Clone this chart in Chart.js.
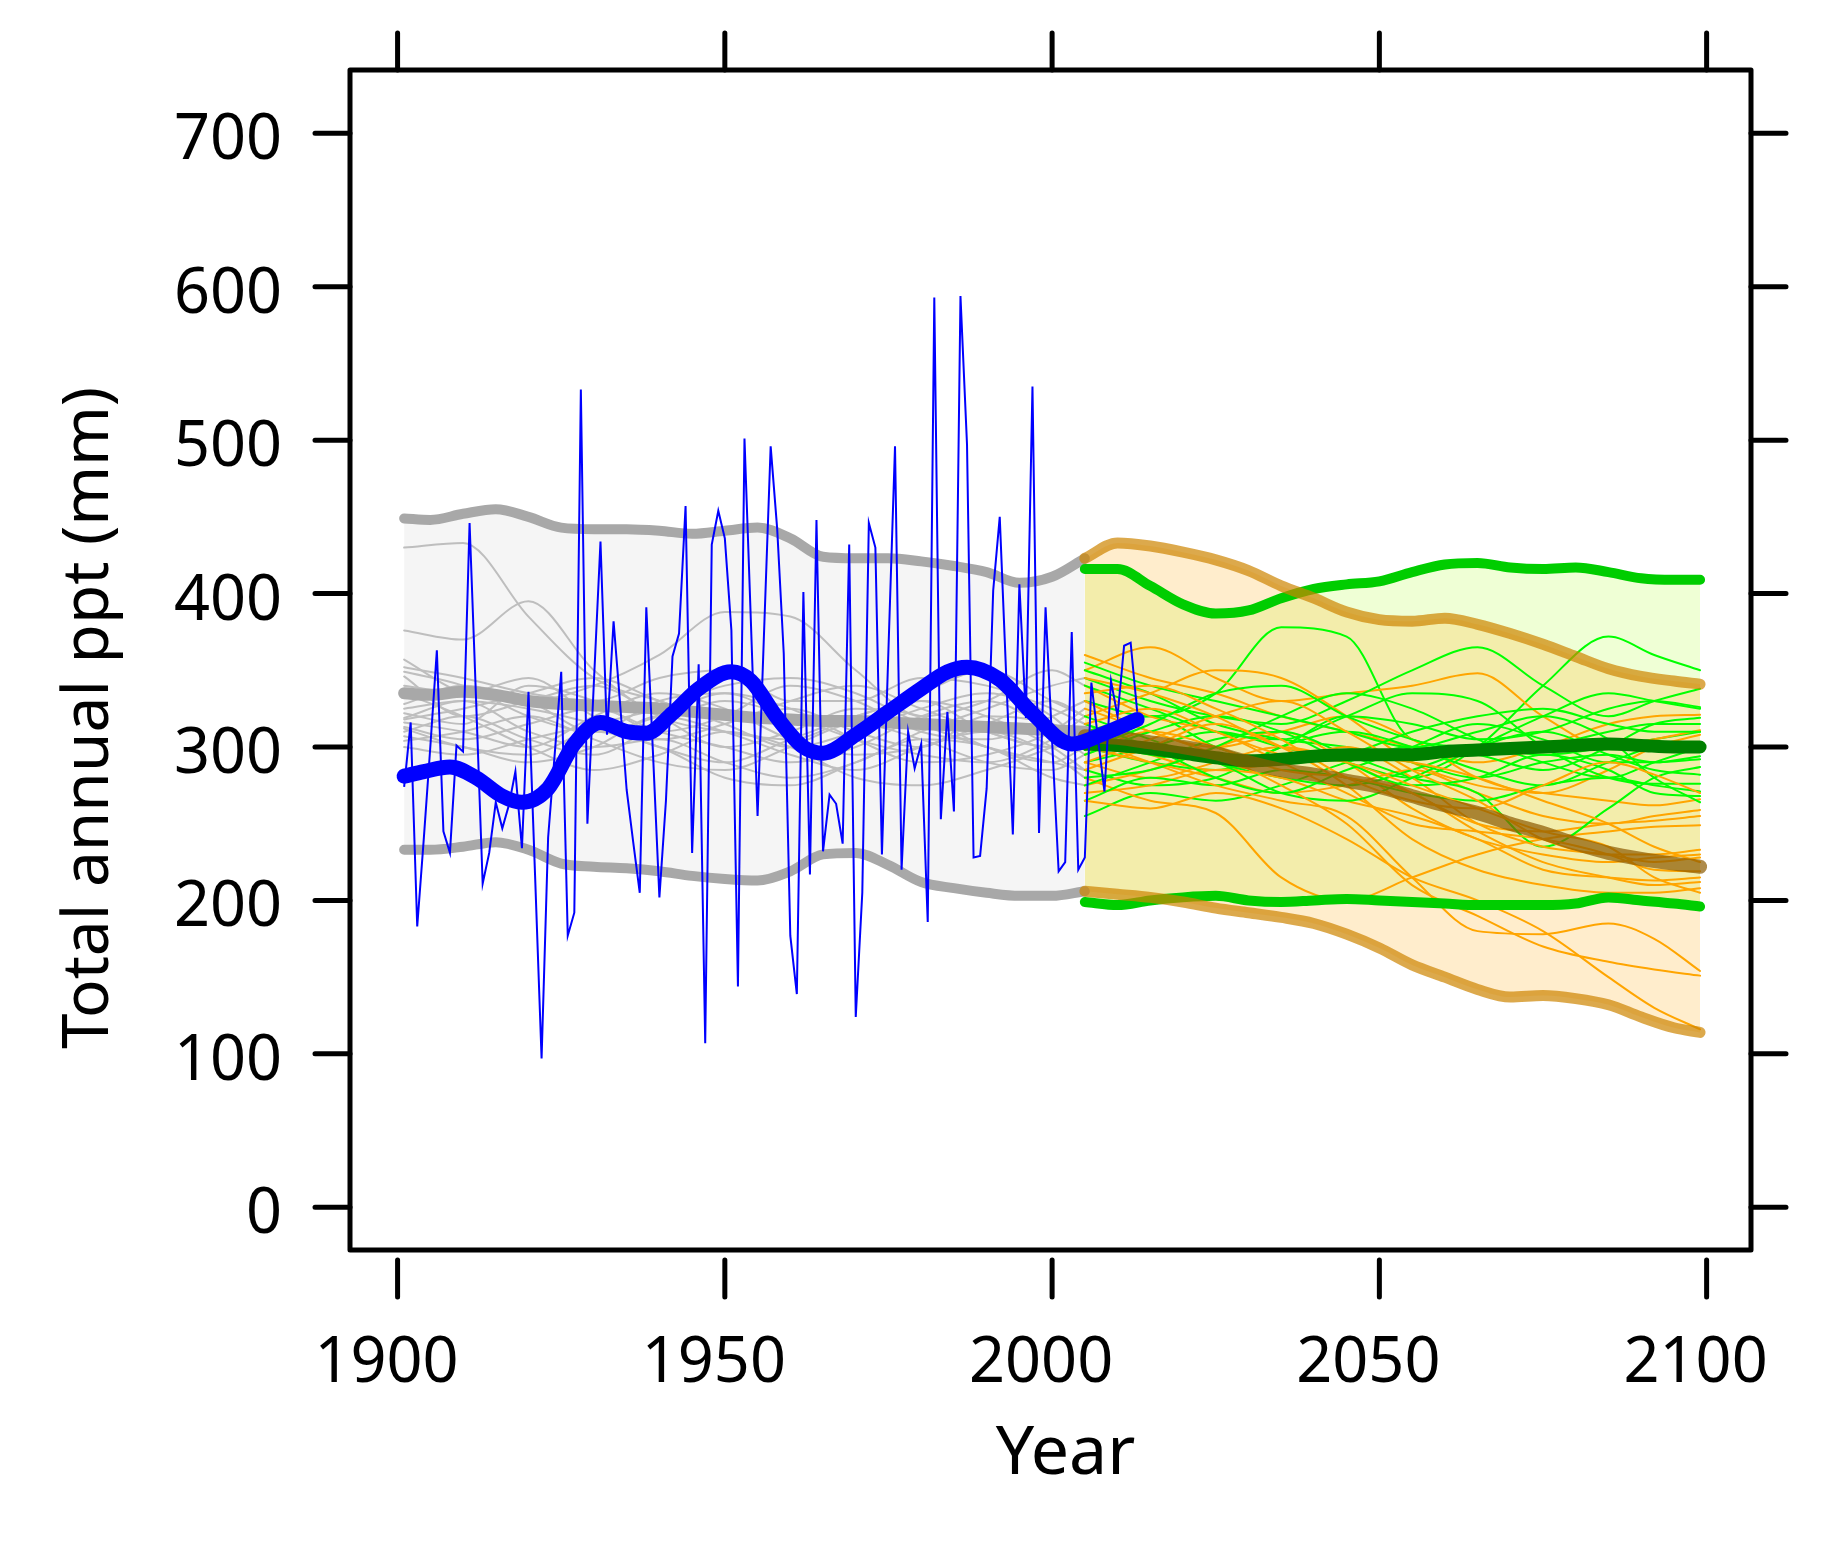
<!DOCTYPE html>
<html>
<head>
<meta charset="utf-8">
<title>Total annual ppt</title>
<script src="https://cdn.jsdelivr.net/npm/chart.js@4.4.1/dist/chart.umd.min.js"></script>
<style>
  html, body { margin: 0; padding: 0; background: #fff; }
  canvas { display: block; }
</style>
</head>
<body>
<canvas id="myChart" width="1829" height="1542"></canvas>
<script>
'use strict';

// axis ticks
let xTicks = [1900, 1950, 2000, 2050, 2100];
let yTicks = [0, 100, 200, 300, 400, 500, 600, 700];

// observed annual totals (mm), one value a year from 1901 to 2013
let obsFirstYear = 1901;
let obsValues = [
  274, 316, 183, 240, 300, 363, 245, 231, 301, 297,
  446, 330, 211, 231, 264, 247, 262, 284, 234, 336,
  217, 97, 241, 295, 349, 177, 192, 533, 250, 343,
  434, 308, 382, 328, 272, 238, 205, 391, 298, 202,
  265, 359, 374, 457, 231, 354, 107, 432, 454, 436,
  376, 144, 501, 379, 255, 376, 496, 442, 361, 177,
  139, 401, 217, 448, 232, 269, 263, 237, 432, 124,
  205, 446, 430, 230, 364, 496, 220, 310, 286, 302,
  186, 593, 253, 323, 258, 594, 497, 228, 229, 273,
  402, 450, 345, 243, 406, 319, 535, 244, 391, 304,
  219, 225, 375, 220, 228, 342, 306, 271, 343, 320,
  366, 368, 323
];

// smoothed observed
let obsSmoothYears = [1901, 1904, 1908, 1912, 1916, 1919, 1923, 1927, 1931, 1935, 1938, 1942, 1946, 1951,
  1954, 1958, 1962, 1965, 1970, 1975, 1980, 1984, 1987, 1992, 1997, 2003, 2008, 2013];
let obsSmooth = [281, 284, 287, 280, 268, 264, 273, 302, 316, 310, 309, 322, 338, 349,
  343, 319, 300, 296, 308, 323, 338, 349, 352, 344, 322, 302, 309, 318];

// historical model envelope
let histYears = [1901, 1905, 1910, 1915, 1920, 1925, 1930, 1935, 1940, 1945, 1950,
  1955, 1960, 1965, 1970, 1975, 1980, 1985, 1990, 1995, 2000, 2005];
let histUpper = [449, 448, 452, 455, 450, 443, 442, 442, 441, 439, 441,
  443, 436, 424, 423, 423, 421, 418, 414, 407, 411, 423];
let histMean = [335, 334, 336, 334, 330, 328, 327, 326, 325, 323, 321,
  319, 318, 317, 317, 316, 315, 314, 313, 312, 311, 310];
let histLower = [233, 233, 235, 238, 233, 224, 222, 221, 219, 216, 214,
  213, 219, 230, 231, 223, 212, 208, 205, 203, 203, 206];

// historical model runs
let runYears = [1901, 1910, 1920, 1930, 1940, 1950, 1960, 1970, 1980, 1990, 2000, 2005];
let histRuns = [
  [430, 433, 385, 345, 330, 318, 325, 310, 300, 320, 315, 305],
  [376, 370, 395, 350, 320, 310, 305, 320, 330, 310, 300, 310],
  [357, 335, 330, 340, 360, 388, 385, 350, 320, 330, 350, 340],
  [352, 345, 335, 330, 345, 350, 330, 330, 345, 340, 325, 315],
  [349, 340, 320, 310, 330, 335, 320, 315, 335, 350, 330, 320],
  [346, 320, 330, 340, 320, 300, 310, 325, 320, 300, 290, 300],
  [322, 315, 340, 330, 310, 320, 340, 330, 310, 305, 320, 330],
  [319, 330, 325, 315, 300, 290, 305, 320, 330, 320, 300, 285],
  [316, 310, 300, 320, 335, 325, 305, 295, 300, 315, 330, 320],
  [313, 305, 315, 325, 310, 300, 290, 300, 320, 330, 310, 295],
  [310, 320, 305, 295, 315, 330, 320, 305, 295, 290, 305, 320],
  [307, 300, 290, 300, 320, 310, 295, 285, 300, 310, 295, 280],
  [304, 310, 320, 305, 290, 285, 300, 315, 305, 290, 285, 295],
  [340, 335, 345, 320, 305, 315, 330, 340, 325, 310, 300, 305],
  [325, 330, 310, 300, 305, 290, 280, 290, 310, 325, 340, 345],
  [300, 295, 305, 315, 325, 340, 345, 335, 315, 300, 290, 285],
  [335, 320, 300, 285, 295, 310, 300, 280, 275, 285, 300, 310],
  [318, 325, 335, 345, 330, 315, 300, 310, 325, 335, 320, 300],
  [312, 300, 295, 310, 300, 280, 275, 290, 305, 300, 280, 275],
  [328, 340, 330, 310, 320, 335, 325, 305, 290, 295, 310, 325]
];

// projection envelopes
let futYears = [2005, 2010, 2015, 2020, 2025, 2030, 2035, 2040, 2045, 2050,
  2055, 2060, 2065, 2070, 2075, 2080, 2085, 2090, 2095, 2099];
let greenUpper = [416, 416, 405, 393, 387, 389, 397, 403, 406, 408,
  414, 419, 420, 417, 416, 417, 414, 410, 409, 409];
let greenMean = [302, 301, 299, 296, 293, 291, 292, 294, 295, 295,
  295, 297, 298, 299, 300, 301, 302, 301, 300, 300];
let greenLower = [199, 197, 200, 202, 203, 200, 199, 200, 201, 200,
  199, 198, 197, 197, 197, 198, 202, 200, 198, 196];
let orangeUpper = [423, 433, 431, 427, 422, 415, 405, 397, 388, 383,
  382, 384, 380, 374, 367, 359, 351, 346, 343, 341];
let orangeMean = [307, 306, 303, 300, 296, 290, 285, 282, 278, 274,
  268, 262, 257, 250, 244, 237, 231, 227, 224, 222];
let orangeLower = [206, 204, 202, 199, 195, 192, 189, 185, 178, 169,
  158, 150, 142, 137, 138, 136, 132, 124, 117, 114];

// projection runs
let futRunYears = [2005, 2015, 2025, 2035, 2045, 2055, 2065, 2075, 2085, 2092, 2099];
let greenRuns = [
  [330, 320, 335, 378, 372, 305, 300, 295, 300, 305, 310],
  [290, 300, 310, 300, 290, 280, 300, 340, 372, 360, 350],
  [345, 330, 320, 315, 330, 350, 365, 340, 320, 330, 338],
  [300, 290, 285, 300, 320, 315, 305, 310, 325, 330, 326],
  [255, 270, 265, 275, 290, 300, 295, 285, 300, 315, 319],
  [310, 320, 300, 290, 295, 310, 320, 325, 315, 310, 310],
  [285, 275, 280, 300, 310, 300, 285, 275, 290, 300, 302],
  [350, 335, 315, 305, 300, 290, 280, 290, 295, 290, 294],
  [275, 290, 305, 310, 295, 280, 270, 235, 260, 280, 287],
  [320, 305, 290, 280, 275, 285, 300, 310, 295, 285, 282],
  [340, 325, 310, 305, 320, 335, 330, 300, 280, 276, 276],
  [265, 280, 275, 285, 280, 270, 265, 275, 280, 275, 271],
  [295, 310, 320, 310, 290, 275, 280, 295, 285, 270, 268],
  [355, 340, 330, 320, 310, 300, 310, 320, 305, 280, 264],
  [305, 295, 290, 270, 265, 280, 300, 320, 335, 330, 325],
  [280, 285, 300, 320, 335, 325, 305, 290, 280, 290, 300],
  [315, 300, 280, 270, 285, 300, 315, 305, 290, 290, 292],
  [298, 315, 335, 340, 320, 305, 295, 300, 310, 315, 315]
];
let orangeRuns = [
  [360, 345, 335, 320, 310, 300, 290, 300, 315, 320, 321],
  [350, 365, 345, 330, 335, 340, 348, 320, 300, 305, 311],
  [330, 310, 300, 310, 320, 305, 280, 270, 285, 300, 308],
  [320, 335, 350, 345, 320, 290, 275, 270, 265, 262, 266],
  [300, 290, 280, 270, 275, 285, 270, 255, 250, 255, 259],
  [290, 280, 290, 300, 290, 270, 250, 245, 250, 252, 255],
  [280, 265, 257, 215, 200, 215, 230, 240, 245, 248, 249],
  [275, 285, 300, 310, 290, 260, 240, 230, 225, 228, 230],
  [310, 295, 285, 290, 300, 280, 250, 235, 230, 225, 228],
  [340, 320, 310, 290, 270, 250, 245, 240, 230, 220, 219],
  [270, 275, 285, 280, 265, 255, 240, 220, 215, 213, 215],
  [295, 310, 300, 285, 280, 270, 245, 225, 215, 210, 212],
  [285, 300, 315, 300, 275, 240, 220, 210, 205, 205, 208],
  [305, 290, 275, 265, 255, 215, 180, 178, 185, 175, 154],
  [325, 310, 295, 275, 250, 210, 190, 170, 160, 155, 151],
  [265, 260, 270, 260, 240, 215, 200, 180, 150, 130, 116],
  [315, 325, 310, 295, 290, 275, 260, 245, 235, 215, 205],
  [345, 335, 320, 300, 295, 290, 280, 265, 250, 235, 225],
  [290, 305, 320, 330, 310, 285, 265, 240, 230, 230, 233],
  [335, 340, 325, 305, 280, 265, 260, 275, 290, 282, 270]
];

let fontFamily = '"Noto Sans", "Open Sans", sans-serif';

function pts(xs, ys) {
  return ys.map(function (y, i) { return {x: xs[i], y: y}; });
}

function line(data, color, width, extra) {
  return Object.assign({
    data: data,
    borderColor: color,
    borderWidth: width,
    pointRadius: 0,
    fill: false,
    cubicInterpolationMode: 'monotone',
    borderCapStyle: 'round',
    borderJoinStyle: 'round'
  }, extra || {});
}

let clear = 'rgba(0,0,0,0)';
let datasets = [];

// shaded bands (upper line fills down to the next dataset)
datasets.push(line(pts(histYears, histUpper), clear, 1, {fill: {target: 1}, backgroundColor: '#F5F5F5'}));
datasets.push(line(pts(histYears, histLower), clear, 1));
datasets.push(line(pts(futYears, greenUpper), clear, 1, {fill: {target: 3}, backgroundColor: 'rgba(173,255,47,0.2)'}));
datasets.push(line(pts(futYears, greenLower), clear, 1));
datasets.push(line(pts(futYears, orangeUpper), clear, 1, {fill: {target: 5}, backgroundColor: 'rgba(255,165,0,0.2)'}));
datasets.push(line(pts(futYears, orangeLower), clear, 1));

// individual runs
histRuns.forEach(function (r) {
  datasets.push(line(pts(runYears, r), '#BEBEBE', 2));
});
for (let i = 0; i < Math.max(greenRuns.length, orangeRuns.length); i++) {
  if (greenRuns[i]) datasets.push(line(pts(futRunYears, greenRuns[i]), '#00FF00', 2));
  if (orangeRuns[i]) datasets.push(line(pts(futRunYears, orangeRuns[i]), '#FFA500', 2));
}

// envelopes and means
datasets.push(line(pts(histYears, histUpper), '#A8A8A8', 10));
datasets.push(line(pts(histYears, histLower), '#A8A8A8', 10));
datasets.push(line(pts(histYears, histMean), '#A8A8A8', 12));
datasets.push(line(pts(futYears, greenUpper), '#00CD00', 10));
datasets.push(line(pts(futYears, greenLower), '#00CD00', 10));
datasets.push(line(pts(futYears, greenMean), '#008000', 13));
datasets.push(line(pts(futYears, orangeUpper), 'rgba(205,133,0,0.7)', 11));
datasets.push(line(pts(futYears, orangeLower), 'rgba(205,133,0,0.7)', 11));
datasets.push(line(pts(futYears, orangeMean), 'rgba(139,90,0,0.7)', 14));

// observations
let obsData = obsValues.map(function (v, i) { return {x: obsFirstYear + i, y: v}; });
datasets.push(line(obsData, '#0000FF', 2, {cubicInterpolationMode: 'default', tension: 0, borderCapStyle: 'butt', borderJoinStyle: 'miter'}));
datasets.push(line(pts(obsSmoothYears, obsSmooth), '#0000FF', 15));

// first dataset in the list is drawn first
datasets.forEach(function (d, i) { d.order = -i; });

// box round the panel, ticks on all four sides, axis titles
let framePlugin = {
  id: 'frame',
  afterDraw: function (chart) {
    let ctx = chart.ctx;
    let a = chart.chartArea;
    let sx = chart.scales.x;
    let sy = chart.scales.y;
    ctx.save();
    ctx.strokeStyle = '#000';
    ctx.lineWidth = 5;
    ctx.lineCap = 'round';
    ctx.lineJoin = 'round';
    ctx.strokeRect(a.left, a.top, a.right - a.left, a.bottom - a.top);
    ctx.beginPath();
    xTicks.forEach(function (v) {
      let px = sx.getPixelForValue(v);
      ctx.moveTo(px, a.top);
      ctx.lineTo(px, a.top - 37);
      ctx.moveTo(px, a.bottom + 10);
      ctx.lineTo(px, a.bottom + 47);
    });
    yTicks.forEach(function (v) {
      let py = sy.getPixelForValue(v);
      ctx.moveTo(a.left, py);
      ctx.lineTo(a.left - 35, py);
      ctx.moveTo(a.right, py);
      ctx.lineTo(a.right + 35, py);
    });
    ctx.stroke();

    ctx.fillStyle = '#000';
    ctx.textAlign = 'center';
    ctx.textBaseline = 'alphabetic';
    ctx.font = '68px ' + fontFamily;
    ctx.fillText('Year', (a.left + a.right) / 2 + 15, a.bottom + 224);
    ctx.translate(108, (a.top + a.bottom) / 2 + 58);
    ctx.rotate(-Math.PI / 2);
    ctx.font = '64px ' + fontFamily;
    ctx.fillText('Total annual ppt (mm)', 0, 0);
    ctx.restore();
  }
};

let ctx = document.getElementById('myChart').getContext('2d');

let myChart = new Chart(ctx, {
  type: 'line',
  data: {datasets: datasets},
  plugins: [framePlugin],
  options: {
    responsive: false,
    animation: false,
    devicePixelRatio: 1,
    events: [],
    layout: {padding: {top: 70, right: 78, left: 0, bottom: 0}},
    plugins: {
      legend: {display: false},
      tooltip: {enabled: false}
    },
    scales: {
      x: {
        type: 'linear',
        min: 1892.73,
        max: 2106.78,
        afterBuildTicks: function (s) { s.ticks = xTicks.map(function (v) { return {value: v}; }); },
        afterFit: function (s) {
          s.height = 292;
          s.paddingLeft = 0;
          s.paddingRight = 0;
        },
        grid: {display: false, drawTicks: false},
        border: {display: false},
        ticks: {
          color: '#000',
          font: {family: fontFamily, size: 63},
          padding: 76,
          labelOffset: -11,
          maxRotation: 0,
          autoSkip: false,
          callback: function (v) { return String(v); }
        }
      },
      y: {
        type: 'linear',
        min: -27.83,
        max: 741.26,
        afterBuildTicks: function (s) { s.ticks = yTicks.map(function (v) { return {value: v}; }); },
        afterFit: function (s) {
          s.width = 350;
          s.paddingTop = 0;
          s.paddingBottom = 0;
        },
        grid: {display: false, drawTicks: false},
        border: {display: false},
        ticks: {
          color: '#000',
          font: {family: fontFamily, size: 63},
          padding: 68,
          labelOffset: 8,
          callback: function (v) { return String(v); }
        }
      }
    }
  }
});
</script>
</body>
</html>
